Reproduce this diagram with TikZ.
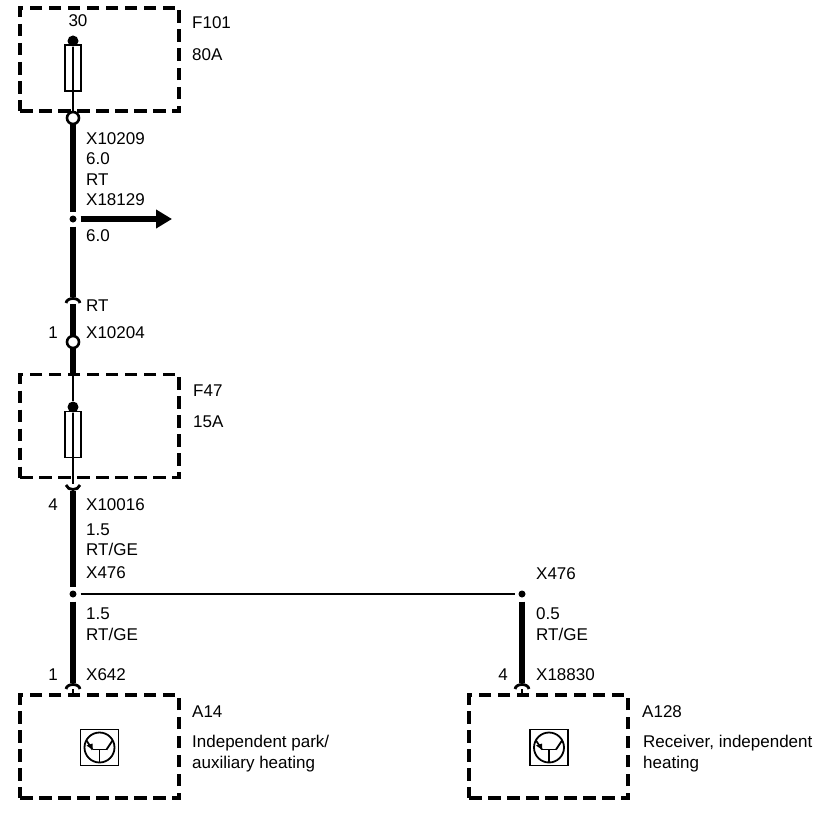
\documentclass[tikz,border=0pt]{standalone}
\usepackage{fontspec}
\setmainfont{Liberation Sans}
\usetikzlibrary{arrows.meta, positioning, calc}

\begin{document}
\begin{tikzpicture}[
    x=1pt, y=-1pt,
    dashbox/.style={rectangle, draw=black, line width=3.2pt, dash pattern=on 12.5pt off 6.5pt, minimum width=159pt, minimum height=103pt},
    fuse/.style={rectangle, draw=black, line width=1.8pt, minimum width=16pt, minimum height=46pt},
    ecubox/.style={rectangle, draw=black, line width=1.8pt, minimum width=38pt, minimum height=36pt},
    soliddot/.style={circle, fill=black, inner sep=0pt, minimum size=11pt},
    opendot/.style={circle, draw=black, fill=white, line width=2.6pt, inner sep=0pt, minimum size=12pt},
    junction/.style={circle, fill=black, inner sep=0pt, minimum size=7pt, outer sep=4pt},
    wire/.style={line width=6.5pt},
    thinwire/.style={line width=1.8pt},
    midwire/.style={line width=2.2pt},
    plug/.style={line width=2.8pt},
    arrow/.style={-{Triangle[length=16pt,width=18pt]}, line width=5.5pt},
    lbl/.style={anchor=base west, inner sep=0pt, font=\fontsize{17}{20}\selectfont},
    pin/.style={anchor=base, inner sep=0pt, font=\fontsize{17}{20}\selectfont}
]
\useasboundingbox (0,0) rectangle (832,816);

% Boxes
\node (boxF101) [dashbox] at (99.5,59.5) {};
\node (boxF47) [dashbox] at (99.5,426) {};
\node (boxA14) [dashbox] at (99.5,746.5) {};
\node (boxA128) [dashbox] at (548.5,746.5) {};

% Fuses
\node (fuseF101) [fuse] at (73,68) {};
\node (fuseF47) [fuse] at (73,434.5) {};
\node (dotF101) [soliddot] at (73,41) {};
\node (dotF47) [soliddot] at (73,407) {};

% Connectors and junctions
\node (openA) [opendot] at (73,118) {};
\node (junA) [junction] at (73,219) {};
\coordinate (cupA) at (73,297);
\coordinate (cupB) at (73,304);
\node (openB) [opendot] at (73,342) {};
\coordinate (stubF47) at (73,484);
\coordinate (forkA) at (73,491);
\node (junB) [junction] at (73,594) {};
\node (junC) [junction] at (522,594) {};
\coordinate (cupC) at (73,683);
\coordinate (cupD) at (522,683);
\coordinate (arrowEnd) at (172,219);

% Wires
\draw [thinwire] (dotF101) -- (openA);
\draw [wire] (openA) -- (junA);
\draw [arrow] (junA) -- (arrowEnd);
\draw [wire] (junA) -- (cupA);
\draw [wire] (cupB) -- (openB);
\draw [wire] (openB) -- (boxF47.north -| openB);
\draw [thinwire] (boxF47.north -| openB) -- (dotF47);
\draw [thinwire] (dotF47) -- (stubF47);
\draw [wire] (forkA) -- (junB);
\draw [wire] (junB) -- (cupC);
\draw [midwire] (junB) -- (junC);
\draw [wire] (junC) -- (cupD);
\draw [thinwire] ($(cupC)+(0,6)$) -- (boxA14.north -| cupC);
\draw [thinwire] ($(cupD)+(0,6)$) -- (boxA128.north -| cupD);

% Plugs
\draw [plug] ($(cupA)+(-7,6)$) .. controls ($(cupA)+(-6,0)$) and ($(cupA)+(6,0)$) .. ($(cupA)+(7,6)$);
\draw [plug] ($(forkA)+(-7,-6)$) .. controls ($(forkA)+(-5,0)$) and ($(forkA)+(5,0)$) .. ($(forkA)+(7,-6)$);
\draw [plug] ($(cupC)+(-7,6)$) .. controls ($(cupC)+(-6,0)$) and ($(cupC)+(6,0)$) .. ($(cupC)+(7,6)$);
\draw [plug] ($(cupD)+(-7,6)$) .. controls ($(cupD)+(-6,0)$) and ($(cupD)+(6,0)$) .. ($(cupD)+(7,6)$);

% Control unit symbols
\foreach \name/\cx in {ecuA/99.5, ecuB/549} {
    \node (\name) [ecubox] at (\cx,747.5) {};
    \draw [thinwire] (\name.center) circle (15pt);
    \draw [thinwire] ($(\name.center)+(0,15)$) -- ($(\name.center)+(0,2)$);
    \draw [thinwire] ($(\name.center)+(-7,2)$) -- ($(\name.center)+(7,2)$);
    \draw [thinwire] ($(\name.center)+(-7,2)$) -- ($(\name.center)+(-13,-7)$);
    \draw [thinwire] ($(\name.center)+(7,2)$) -- ($(\name.center)+(13,-7)$);
    \fill ($(\name.center)+(-7,2)$) -- ($(\name.center)+(-13,-2)$) -- ($(\name.center)+(-7,-4)$) -- cycle;
}

% Labels
\node (lbl30) [pin] at (78,27) {30};
\node (lblF101) [lbl] at (192,29) {F101};
\node (lbl80A) [lbl] at (192,60.5) {80A};
\node (lblXa) [lbl] at (86,144.5) {X10209};
\node (lblSa) [lbl] at (86,164.5) {6.0};
\node (lblCa) [lbl] at (86,185) {RT};
\node (lblXb) [lbl] at (86,205) {X18129};
\node (lblSb) [lbl] at (86,241.5) {6.0};
\node (lblCb) [lbl] at (86,311.5) {RT};
\node (pinOne) [pin] at (53,338.5) {1};
\node (lblXc) [lbl] at (86,338.5) {X10204};
\node (lblF47) [lbl] at (193,396) {F47};
\node (lbl15A) [lbl] at (193,427) {15A};
\node (pinFour) [pin] at (53,510.5) {4};
\node (lblXd) [lbl] at (86,510.5) {X10016};
\node (lblSc) [lbl] at (86,535) {1.5};
\node (lblCc) [lbl] at (86,555.5) {RT/GE};
\node (lblXe) [lbl] at (86,578.5) {X476};
\node (lblSd) [lbl] at (86,619.5) {1.5};
\node (lblCd) [lbl] at (86,640.5) {RT/GE};
\node (pinOneB) [pin] at (53,680) {1};
\node (lblXf) [lbl] at (86,680) {X642};
\node (lblA14) [lbl] at (192,717) {A14};
\node (lblHeatA) [lbl] at (192,747.5) {Independent park/};
\node (lblHeatB) [lbl] at (192,768.5) {auxiliary heating};
\node (lblXg) [lbl] at (536,579) {X476};
\node (lblSe) [lbl] at (536,619.5) {0.5};
\node (lblCe) [lbl] at (536,640.5) {RT/GE};
\node (pinFourB) [pin] at (503,680) {4};
\node (lblXh) [lbl] at (536,680) {X18830};
\node (lblA128) [lbl] at (642,717) {A128};
\node (lblRecvA) [lbl] at (643,747.5) {Receiver, independent};
\node (lblRecvB) [lbl] at (643,768.5) {heating};

\end{tikzpicture}
\end{document}
